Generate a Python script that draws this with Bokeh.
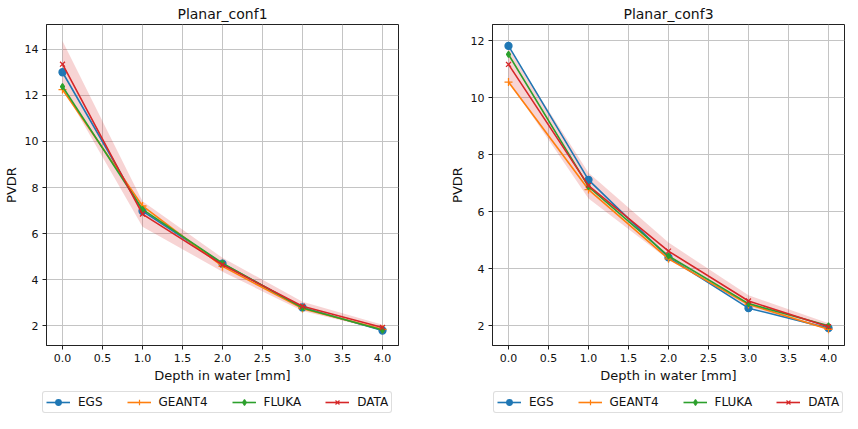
from bokeh.plotting import figure
from bokeh.layouts import row, column
from bokeh.models import Range1d, FixedTicker, Legend, LegendItem, CustomJSTickFormatter
from bokeh.embed import file_html
from bokeh.resources import INLINE

# ---- data ----
depth = [0.0, 1.0, 2.0, 3.0, 4.0]
x_ticks = [0.0, 0.5, 1.0, 1.5, 2.0, 2.5, 3.0, 3.5, 4.0]

titles = ["Planar_conf1", "Planar_conf3"]
series_names = ["EGS", "GEANT4", "FLUKA", "DATA"]

egs_conf1 = [13.0, 6.98, 4.70, 2.80, 1.80]
geant4_conf1 = [12.25, 7.20, 4.58, 2.75, 1.85]
fluka_conf1 = [12.38, 7.05, 4.72, 2.78, 1.82]
data_conf1 = [13.35, 6.85, 4.65, 2.85, 1.93]
data_err_conf1 = [1.0, 0.55, 0.30, 0.20, 0.12]

egs_conf3 = [11.82, 7.12, 4.40, 2.62, 1.92]
geant4_conf3 = [10.55, 6.78, 4.35, 2.75, 1.88]
fluka_conf3 = [11.52, 6.88, 4.45, 2.78, 2.00]
data_conf3 = [11.17, 6.92, 4.62, 2.87, 1.97]
data_err_conf3 = [0.58, 0.45, 0.30, 0.20, 0.12]

y_ticks_conf1 = [2, 4, 6, 8, 10, 12, 14]
y_ticks_conf3 = [2, 4, 6, 8, 10, 12]

colors = ["#1f77b4", "#ff7f0e", "#2ca02c", "#d62728"]
markers = ["circle", "cross", "diamond", "x"]
marker_sizes = [7, 8, 6, 7]
legend_marker_sizes = [6, 7, 5, 6]

FONT = "DejaVu Sans"
FRAME_W = 352
FRAME_H = 321


def make_panel(title, series, data, err, y_ticks, y_range, border_left, border_right):
    p = figure(frame_width=FRAME_W, frame_height=FRAME_H, output_backend="svg",
               toolbar_location=None,
               x_range=Range1d(-0.2, 4.2), y_range=Range1d(*y_range),
               min_border_left=border_left, min_border_right=border_right,
               min_border_top=22, min_border_bottom=40, background_fill_color="white",
               border_fill_color="white")
    p.title.text = title
    p.title.align = "center"
    p.title.text_font = FONT
    p.title.text_font_size = "14px"
    p.title.text_font_style = "normal"
    p.title.text_color = "#111111"
    p.title.standoff = 6

    p.outline_line_color = "#222222"
    p.outline_line_width = 1

    for ax in (p.xaxis[0], p.yaxis[0]):
        ax.axis_line_color = "#222222"
        ax.major_tick_in = 0
        ax.major_tick_out = 4
        ax.minor_tick_out = 0
        ax.minor_tick_in = 0
        ax.major_tick_line_color = "#222222"
        ax.major_label_text_font = FONT
        ax.major_label_text_font_size = "11px"
        ax.major_label_text_color = "#111111"
        ax.major_label_standoff = 4
        ax.axis_label_text_font = FONT
        ax.axis_label_text_font_size = "13px"
        ax.axis_label_text_font_style = "normal"
        ax.axis_label_text_color = "#111111"
        ax.axis_label_standoff = 3

    p.xaxis.ticker = FixedTicker(ticks=x_ticks)
    p.yaxis.ticker = FixedTicker(ticks=y_ticks)
    p.xaxis.axis_label = "Depth in water [mm]"
    p.yaxis.axis_label = "PVDR"
    p.xaxis.formatter = CustomJSTickFormatter(code="return tick.toFixed(1);")

    p.grid.grid_line_color = "#c4c4c4"
    p.grid.grid_line_width = 1

    lo = [d - e for d, e in zip(data, err)]
    hi = [d + e for d, e in zip(data, err)]
    p.varea(x=depth, y1=lo, y2=hi, fill_color="#d62728", fill_alpha=0.2)

    for ys, c, m, s in zip(series, colors, markers, marker_sizes):
        p.line(depth, ys, line_color=c, line_width=1.6)
        p.scatter(depth, ys, marker=m, size=s, fill_color=c, line_color=c, line_width=1.3)
    return p


def make_legend_fig(series, total_width, x_offset):
    # legend-only strip: the series are drawn but kept outside the visible ranges,
    # so only their legend glyphs show
    lf = figure(frame_width=total_width, frame_height=30, output_backend="svg",
                toolbar_location=None, x_range=Range1d(100, 101), y_range=Range1d(100, 101),
                x_axis_location=None, y_axis_location=None,
                min_border_left=0, min_border_right=0, min_border_top=0, min_border_bottom=0,
                outline_line_color=None, background_fill_color="white",
                border_fill_color="white")
    lf.grid.visible = False
    items = []
    for name, ys, c, m, s in zip(series_names, series, colors, markers, legend_marker_sizes):
        ln = lf.line(depth, ys, line_color=c, line_width=1.6)
        sc = lf.scatter(depth, ys, marker=m, size=s, fill_color=c, line_color=c, line_width=1.2)
        items.append(LegendItem(label=name, renderers=[ln, sc]))
    legend = Legend(items=items, orientation="horizontal", location=(x_offset, 2),
                    label_text_font=FONT, label_text_font_size="12px",
                    label_text_color="#111111", label_height=14,
                    glyph_width=24, glyph_height=14, label_standoff=8, spacing=24,
                    padding=3, margin=0, border_line_color="#bdbdbd", border_line_width=1,
                    border_radius=3, background_fill_alpha=1.0)
    lf.add_layout(legend, "center")
    return lf


L1, R1 = 41, 26
L2, R2 = 68, 2

series_conf1 = [egs_conf1, geant4_conf1, fluka_conf1, data_conf1]
series_conf3 = [egs_conf3, geant4_conf3, fluka_conf3, data_conf3]

p1 = make_panel(titles[0], series_conf1, data_conf1, data_err_conf1,
                y_ticks_conf1, (1.15, 15.07), L1, R1)
p3 = make_panel(titles[1], series_conf3, data_conf3, data_err_conf3,
                y_ticks_conf3, (1.31, 12.57), L2, R2)

leg1 = make_legend_fig(series_conf1, L1 + FRAME_W + R1, L1 + 1)
leg3 = make_legend_fig(series_conf3, L2 + FRAME_W + R2, L2 + 1)

layout = row(column(p1, leg1), column(p3, leg3))
open("out.html", "w").write(file_html(layout, INLINE))
